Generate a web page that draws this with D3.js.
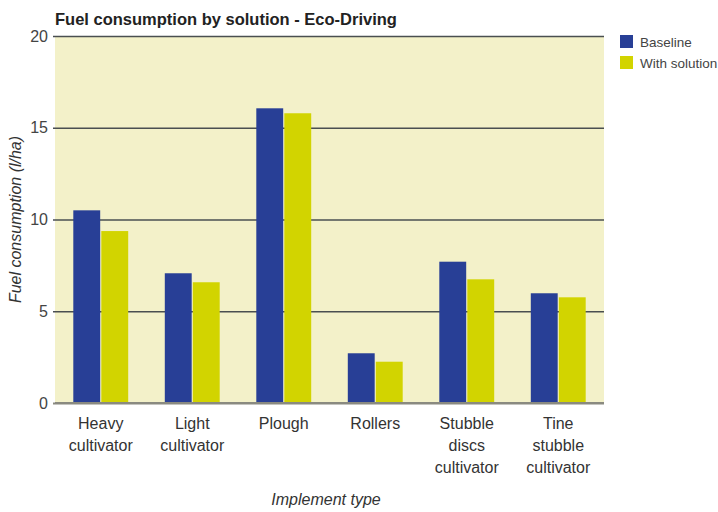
<!DOCTYPE html>
<html><head><meta charset="utf-8">
<script src="https://cdn.jsdelivr.net/npm/d3@7"></script>
<style>body{margin:0;background:#fff;} svg{display:block;font-family:"Liberation Sans",Arial,sans-serif;}</style>
</head><body>
<svg id="c" width="718" height="512"></svg>
<script>
const categories = ["Heavy cultivator","Light cultivator","Plough","Rollers","Stubble discs cultivator","Tine stubble cultivator"];
const categoryLines = [["Heavy","cultivator"],["Light","cultivator"],["Plough"],["Rollers"],["Stubble","discs","cultivator"],["Tine","stubble","cultivator"]];
const seriesNames = ["Baseline","With solution"];
const baseline = [10.5, 7.07, 16.06, 2.71, 7.7, 5.98];
const withSolution = [9.37, 6.58, 15.79, 2.25, 6.74, 5.76];
const yTicks = [0,5,10,15,20];
const colors = ["#283f96","#d2d400"];

const svg = d3.select("#c");
const m = {l:55, r:604, t:36, b:403};
const x = d3.scaleBand().domain(categories).range([m.l,m.r]).paddingInner(0.4).paddingOuter(0.2);
const xs = d3.scaleBand().domain(seriesNames).range([0,x.bandwidth()]).paddingInner(0.04);
const y = d3.scaleLinear().domain([0,20]).range([m.b,m.t]);

svg.append("rect").attr("x",m.l).attr("y",m.t).attr("width",m.r-m.l).attr("height",m.b-m.t).attr("fill","#f3f1c9");

const ya = d3.axisLeft(y).tickValues(yTicks).tickSize(-(m.r-m.l)).tickPadding(7).tickFormat(d3.format("d"));
const gy = svg.append("g").attr("transform",`translate(${m.l},0)`).call(ya);
gy.select(".domain").remove();
gy.selectAll(".tick line").attr("stroke",d=>d===0?"#8a8a80":"#4a4f50").attr("stroke-width",d=>d===0?2:1.6).attr("x1",-2);
gy.selectAll(".tick text").attr("font-size",16).attr("fill","#444").attr("font-family","Liberation Sans, Arial, sans-serif");

const data = categories.map((c,i)=>({c, vals:[baseline[i], withSolution[i]]}));
const g = svg.append("g");
data.forEach(d=>{
  d.vals.forEach((v,j)=>{
    g.append("rect").attr("x",x(d.c)+xs(seriesNames[j])).attr("width",xs.bandwidth())
     .attr("y",y(v)).attr("height",y(0)-y(v)).attr("fill",colors[j]);
  });
});
svg.append("line").attr("x1",m.l).attr("x2",m.r).attr("y1",y(0)).attr("y2",y(0)).attr("stroke","#8a8a80").attr("stroke-width",2);

categories.forEach((c,i)=>{
  const cx = x(c)+x.bandwidth()/2;
  const t = svg.append("text").attr("text-anchor","middle").attr("font-size",16).attr("fill","#333").attr("x",cx).attr("y",429);
  categoryLines[i].forEach((ln,k)=>t.append("tspan").attr("x",cx).attr("y",429+k*22).text(ln));
});

svg.append("text").attr("x",55).attr("y",25).attr("font-size",16.5).attr("font-weight","bold").attr("fill","#222").text("Fuel consumption by solution - Eco-Driving");
svg.append("text").attr("text-anchor","middle").attr("font-style","italic").attr("font-size",16).attr("fill","#333")
  .attr("transform",`translate(21,${(m.t+m.b)/2}) rotate(-90)`).text("Fuel consumption (l/ha)");
svg.append("text").attr("text-anchor","middle").attr("font-style","italic").attr("font-size",16).attr("fill","#333")
  .attr("x",326).attr("y",505).text("Implement type");

seriesNames.forEach((s,i)=>{
  svg.append("rect").attr("x",620).attr("y",35+i*21).attr("width",13).attr("height",13).attr("fill",colors[i]);
  svg.append("text").attr("x",640).attr("y",47+i*21).attr("font-size",13.5).attr("fill","#444").text(s);
});
</script>
</body></html>
